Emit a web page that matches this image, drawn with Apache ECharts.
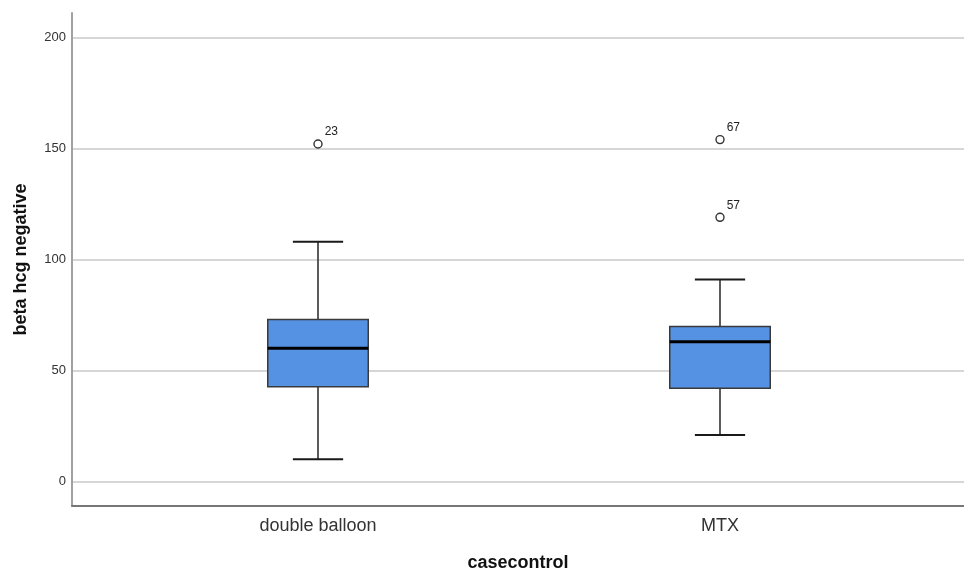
<!DOCTYPE html>
<html>
<head>
<meta charset="utf-8">
<script src="https://cdn.jsdelivr.net/npm/echarts@6/dist/echarts.min.js"></script>
<style>
html,body{margin:0;padding:0;background:#fff;}
#chart{width:964px;height:572px;}
</style>
</head>
<body>
<div id="chart"></div>
<script>
// ---- data ----
const categories = ['double balloon', 'MTX'];
const whiskerLow  = [10, 21];
const q1          = [42.7, 42];
const median      = [60, 63];
const q3          = [73, 69.8];
const whiskerHigh = [108, 91];
const outlierCategory = [0, 1, 1];
const outlierValue    = [152, 154, 119];
const outlierCase     = ['23', '67', '57'];
const yMin = -11, yMax = 211;

const boxData = categories.map((c, i) => [i, whiskerLow[i], q1[i], median[i], q3[i], whiskerHigh[i]]);
const outlierData = outlierValue.map((v, i) => ({ value: [outlierCategory[i], v], name: outlierCase[i] }));

const chart = echarts.init(document.getElementById('chart'), null, { renderer: 'canvas' });
const FONT = 'Liberation Sans, Arial, sans-serif';

chart.setOption({
  animation: false,
  backgroundColor: '#ffffff',
  grid: [
    { left: 72, right: 0, top: 13, bottom: 66, containLabel: false, outerBoundsMode: 'none' },
    { left: 117, right: 43, top: 13, bottom: 66, containLabel: false, outerBoundsMode: 'none' }
  ],
  xAxis: [
    {
      gridIndex: 0, type: 'value', min: 0, max: 1,
      axisLine: { show: true, onZero: false, lineStyle: { color: '#777', width: 2 } },
      axisTick: { show: false }, axisLabel: { show: false }, splitLine: { show: false },
      name: 'casecontrol', nameLocation: 'middle', nameGap: 48,
      nameTextStyle: { fontFamily: FONT, fontSize: 18, fontWeight: 'bold', color: '#111' }
    },
    {
      gridIndex: 1, type: 'category', data: categories,
      axisLine: { show: false }, axisTick: { show: false },
      axisLabel: { margin: 11, fontFamily: FONT, fontSize: 18, color: '#333' },
      splitLine: { show: false }
    }
  ],
  yAxis: [
    {
      gridIndex: 0, type: 'value', min: yMin, max: yMax, splitNumber: 5,
      axisLine: { show: true, lineStyle: { color: '#a0a0a0', width: 2 } },
      axisTick: { show: false },
      axisLabel: { margin: 6, fontFamily: FONT, fontSize: 13, color: '#333', showMinLabel: false, showMaxLabel: false },
      splitLine: { show: true, showMinLine: false, showMaxLine: false, lineStyle: { color: '#c8c8c8', width: 1.5 } },
      name: 'beta hcg negative', nameLocation: 'middle', nameGap: 42, nameRotate: 90,
      nameTextStyle: { fontFamily: FONT, fontSize: 18, fontWeight: 'bold', color: '#111' }
    },
    {
      gridIndex: 1, type: 'value', min: yMin, max: yMax, show: false,
      splitLine: { show: false }
    }
  ],
  series: [
    {
      type: 'custom',
      xAxisIndex: 1, yAxisIndex: 1,
      data: boxData,
      encode: { x: 0, y: [1, 2, 3, 4, 5] },
      renderItem: function (params, api) {
        const idx = api.value(0);
        const p = k => api.coord([idx, api.value(k)]);
        const pMin = p(1), pQ1 = p(2), pMed = p(3), pQ3 = p(4), pMax = p(5);
        const x = pMin[0];
        const band = api.size([1, 0])[0];
        const hw = band * 0.125;   // half box width
        const cw = band * 0.0625;  // half cap width
        const dark = '#333';
        return {
          type: 'group',
          children: [
            { type: 'line', shape: { x1: x, y1: pMax[1], x2: x, y2: pQ3[1] }, style: { stroke: dark, lineWidth: 1.6 } },
            { type: 'line', shape: { x1: x, y1: pQ1[1], x2: x, y2: pMin[1] }, style: { stroke: dark, lineWidth: 1.6 } },
            { type: 'line', shape: { x1: x - cw, y1: pMax[1], x2: x + cw, y2: pMax[1] }, style: { stroke: '#1a1a1a', lineWidth: 2 } },
            { type: 'line', shape: { x1: x - cw, y1: pMin[1], x2: x + cw, y2: pMin[1] }, style: { stroke: '#1a1a1a', lineWidth: 2 } },
            { type: 'rect', shape: { x: x - hw, y: pQ3[1], width: 2 * hw, height: pQ1[1] - pQ3[1] },
              style: { fill: '#5592E3', stroke: '#3a3a3a', lineWidth: 1.5 } },
            { type: 'line', shape: { x1: x - hw, y1: pMed[1], x2: x + hw, y2: pMed[1] }, style: { stroke: '#000', lineWidth: 3 } }
          ]
        };
      },
      z: 3
    },
    {
      type: 'scatter',
      xAxisIndex: 1, yAxisIndex: 1,
      data: outlierData,
      symbol: 'circle', symbolSize: 8,
      itemStyle: { color: '#ffffff', borderColor: '#333', borderWidth: 1.4, opacity: 1 },
      label: {
        show: true, position: 'right', distance: 2, offset: [0, -12],
        formatter: p => p.name,
        fontFamily: FONT, fontSize: 12, color: '#222'
      },
      z: 4
    }
  ]
});
</script>
</body>
</html>
